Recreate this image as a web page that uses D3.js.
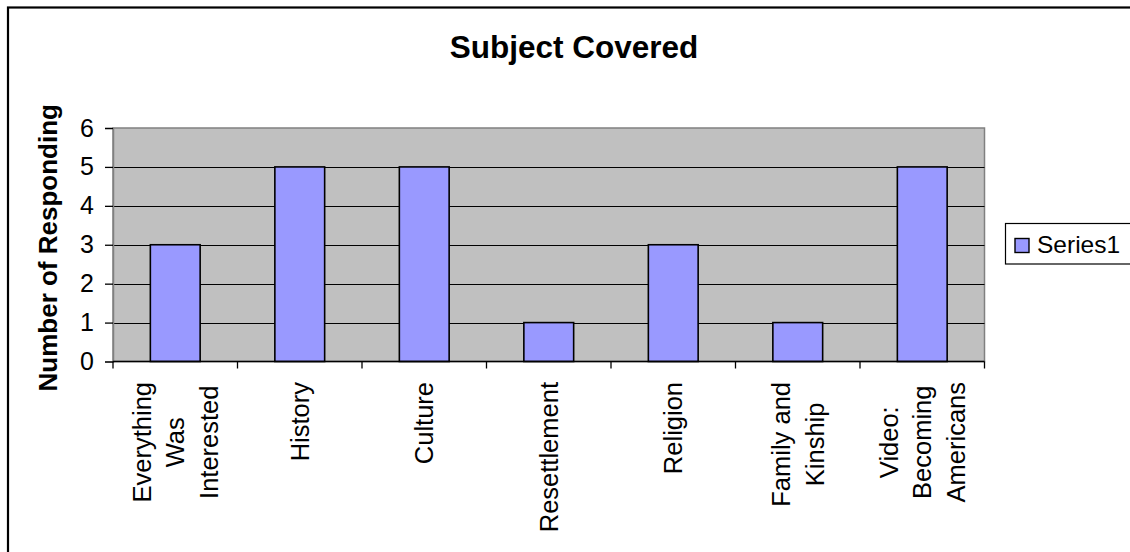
<!DOCTYPE html>
<html>
<head>
<meta charset="utf-8">
<script src="https://cdn.jsdelivr.net/npm/d3@7"></script>
<style>
  html, body { margin: 0; padding: 0; background: #fff; }
  svg { display: block; font-family: "Liberation Sans", Arial, sans-serif; }
</style>
</head>
<body>
<svg id="chart" width="1130" height="552"></svg>
<script>
// ---- data ----
const categories = [
  ["Everything", "Was", "Interested"],
  ["History"],
  ["Culture"],
  ["Resettlement"],
  ["Religion"],
  ["Family and", "Kinship"],
  ["Video:", "Becoming", "Americans"]
];
const values = [3, 5, 5, 1, 3, 1, 5];
const yTicks = [0, 1, 2, 3, 4, 5, 6];
const seriesName = "Series1";
const titleText = "Subject Covered";
const yTitle = "Number of Responding";

// ---- layout ----
const W = 1130, H = 552;
const plot = { left: 113, right: 984.5, top: 128, bottom: 361.5 };
const svg = d3.select("#chart");

// outer chart border (right & bottom cropped like reference)
svg.append("rect")
  .attr("x", 8).attr("y", 7.5)
  .attr("width", W + 20).attr("height", H + 20)
  .attr("fill", "#fff").attr("stroke", "#000").attr("stroke-width", 2.2);

const keys = categories.map((c, i) => i);
const x = d3.scaleBand().domain(keys).range([plot.left, plot.right]).padding(0);
const y = d3.scaleLinear().domain([0, 6]).range([plot.bottom, plot.top]);

// plot area background
svg.append("rect")
  .attr("x", plot.left).attr("y", plot.top)
  .attr("width", plot.right - plot.left).attr("height", plot.bottom - plot.top)
  .attr("fill", "#C0C0C0").attr("stroke", "#808080").attr("stroke-width", 1.5);

// gridlines
svg.append("g")
  .selectAll("line")
  .data(yTicks.filter(t => t > 0 && t < 6))
  .join("line")
  .attr("x1", plot.left).attr("x2", plot.right)
  .attr("y1", d => Math.round(y(d)) + 0.5).attr("y2", d => Math.round(y(d)) + 0.5)
  .attr("stroke", "#000").attr("stroke-width", 1);

// bars
const barW = x.bandwidth() * 0.4;
svg.append("g")
  .selectAll("rect")
  .data(values)
  .join("rect")
  .attr("x", (d, i) => x(i) + (x.bandwidth() - barW) / 2)
  .attr("y", d => y(d))
  .attr("width", barW)
  .attr("height", d => y(0) - y(d))
  .attr("fill", "#9999FF")
  .attr("stroke", "#000").attr("stroke-width", 1.6);

// y axis
const yAxis = d3.axisLeft(y).tickValues(yTicks).tickSize(8).tickPadding(11).tickFormat(d3.format("d"));
const gy = svg.append("g").attr("transform", `translate(${plot.left},0)`).call(yAxis);
gy.select(".domain").attr("stroke", "#808080").attr("stroke-width", 1.5);
gy.selectAll(".tick line").attr("stroke", "#000").attr("stroke-width", 1.3);
gy.selectAll(".tick text")
  .attr("font-size", 25).attr("fill", "#000")
  .attr("font-family", "'Liberation Sans', Arial, sans-serif");

// x axis (ticks at category boundaries)
const bounds = keys.map(k => x(k)).concat([plot.right]);
svg.append("line")
  .attr("x1", plot.left).attr("x2", plot.right)
  .attr("y1", plot.bottom).attr("y2", plot.bottom)
  .attr("stroke", "#000").attr("stroke-width", 1.5);
svg.append("g").selectAll("line").data(bounds).join("line")
  .attr("x1", d => d).attr("x2", d => d)
  .attr("y1", plot.bottom).attr("y2", plot.bottom + 7)
  .attr("stroke", "#000").attr("stroke-width", 1.3);

// category labels (rotated, multi-line centered, block top-aligned)
const labelTop = 382;
const lineGap = 33.5;
const catG = svg.append("g");
categories.forEach((lines, i) => {
  const cx = x(i) + x.bandwidth() / 2;
  const n = lines.length;
  const g = catG.append("g");
  const texts = lines.map((ln, j) => {
    const lx = cx + (j - (n - 1) / 2) * lineGap;
    return g.append("text")
      .attr("font-size", 25.5).attr("fill", "#000")
      .attr("text-anchor", "middle")
      .attr("dy", "0.36em")
      .attr("data-lx", lx)
      .text(ln);
  });
  const maxLen = d3.max(texts, t => t.node().getComputedTextLength());
  const cy = labelTop + maxLen / 2;
  texts.forEach(t => {
    const lx = +t.attr("data-lx");
    t.attr("transform", `translate(${lx},${cy}) rotate(-90)`);
  });
});

// y axis title
svg.append("text")
  .attr("transform", `translate(57,${(plot.top + plot.bottom) / 2 + 3}) rotate(-90)`)
  .attr("text-anchor", "middle")
  .attr("font-size", 26).attr("font-weight", "bold").attr("fill", "#000")
  .text(yTitle);

// title
svg.append("text")
  .attr("x", 574).attr("y", 58)
  .attr("text-anchor", "middle")
  .attr("font-size", 31.5).attr("font-weight", "bold").attr("fill", "#000")
  .text(titleText);

// legend
const lg = svg.append("g");
lg.append("rect")
  .attr("x", 1005.5).attr("y", 223.5).attr("width", 140).attr("height", 40.5)
  .attr("fill", "#fff").attr("stroke", "#000").attr("stroke-width", 1.2);
lg.append("rect")
  .attr("x", 1015).attr("y", 238.5).attr("width", 14).attr("height", 14)
  .attr("fill", "#9999FF").attr("stroke", "#000").attr("stroke-width", 1.4);
lg.append("text")
  .attr("x", 1037).attr("y", 253)
  .attr("font-size", 24.5).attr("fill", "#000")
  .text(seriesName);
</script>
</body>
</html>
